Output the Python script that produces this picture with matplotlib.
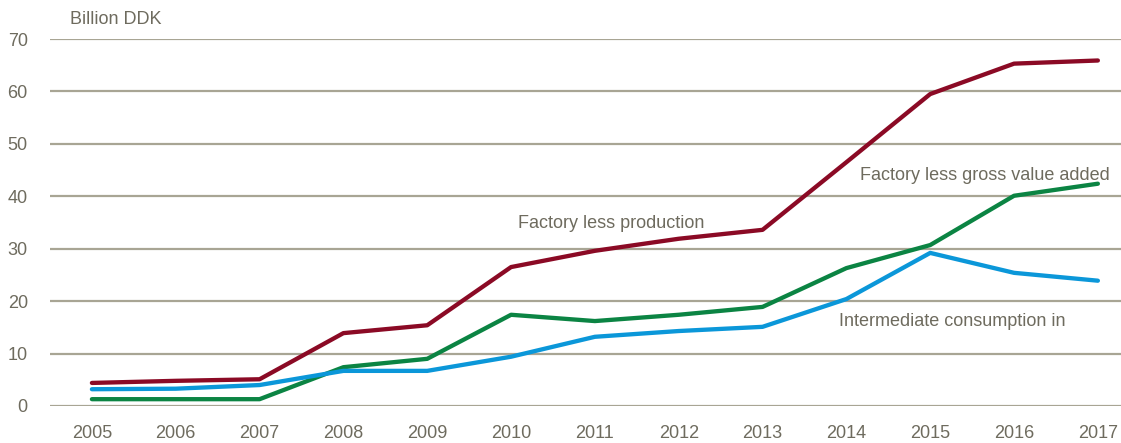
import matplotlib
matplotlib.use("Agg")
import matplotlib.pyplot as plt

years = [2005, 2006, 2007, 2008, 2009, 2010, 2011, 2012, 2013, 2014, 2015, 2016, 2017]
production = [4.4, 4.8, 5.1, 13.9, 15.4, 26.5, 29.6, 31.9, 33.6, 46.5, 59.5, 65.3, 65.9]
gross_value_added = [1.3, 1.3, 1.3, 7.4, 9.0, 17.4, 16.2, 17.4, 18.9, 26.3, 30.7, 40.1, 42.4]
intermediate = [3.2, 3.3, 4.0, 6.7, 6.7, 9.4, 13.2, 14.3, 15.1, 20.4, 29.2, 25.4, 23.9]
yticks = [0, 10, 20, 30, 40, 50, 60, 70]

plt.rcParams['font.family'] = ['Liberation Sans', 'DejaVu Sans']

txt = '#6E6B5E'
grid = '#A8A594'
fs = 13

fig = plt.figure(figsize=(11.21, 4.43), dpi=100)
ax = fig.add_axes([50/1121, 37/443, 1 - 50/1121, 367/443])

ax.plot(years, production, color='#8B0A25', lw=3.1, solid_capstyle='round', zorder=3)
ax.plot(years, gross_value_added, color='#0B8443', lw=3.1, solid_capstyle='round', zorder=3)
ax.plot(years, intermediate, color='#0B97D9', lw=3.1, solid_capstyle='round', zorder=3)

ax.set_ylim(0, 70)
ax.set_xlim(2004.5, 2004.5 + 1071/83.83)
ax.set_yticks(yticks)
ax.set_xticks(years)
ax.set_xticklabels([str(y) for y in years])
for y in yticks:
    ax.axhline(y, color=grid, lw=1.6, zorder=1)
for s in ax.spines.values():
    s.set_visible(False)
ax.tick_params(axis='both', length=0, labelcolor=txt, labelsize=fs)
ax.tick_params(axis='y', pad=16)
ax.tick_params(axis='x', pad=14)

ax.text(0.019, 1.052, 'Billion DDK', transform=ax.transAxes, color=txt, fontsize=fs,
        va='center', ha='left')
ax.text(2011.2, 34.9, 'Factory less production', color=txt, fontsize=fs, ha='center', va='center')
ax.text(2017.14, 43.9, 'Factory less gross value added', color=txt, fontsize=fs, ha='right', va='center')
ax.text(2015.26, 16.2, 'Intermediate consumption in', color=txt, fontsize=fs, ha='center', va='center')

fig.savefig('out.png', dpi=100)
